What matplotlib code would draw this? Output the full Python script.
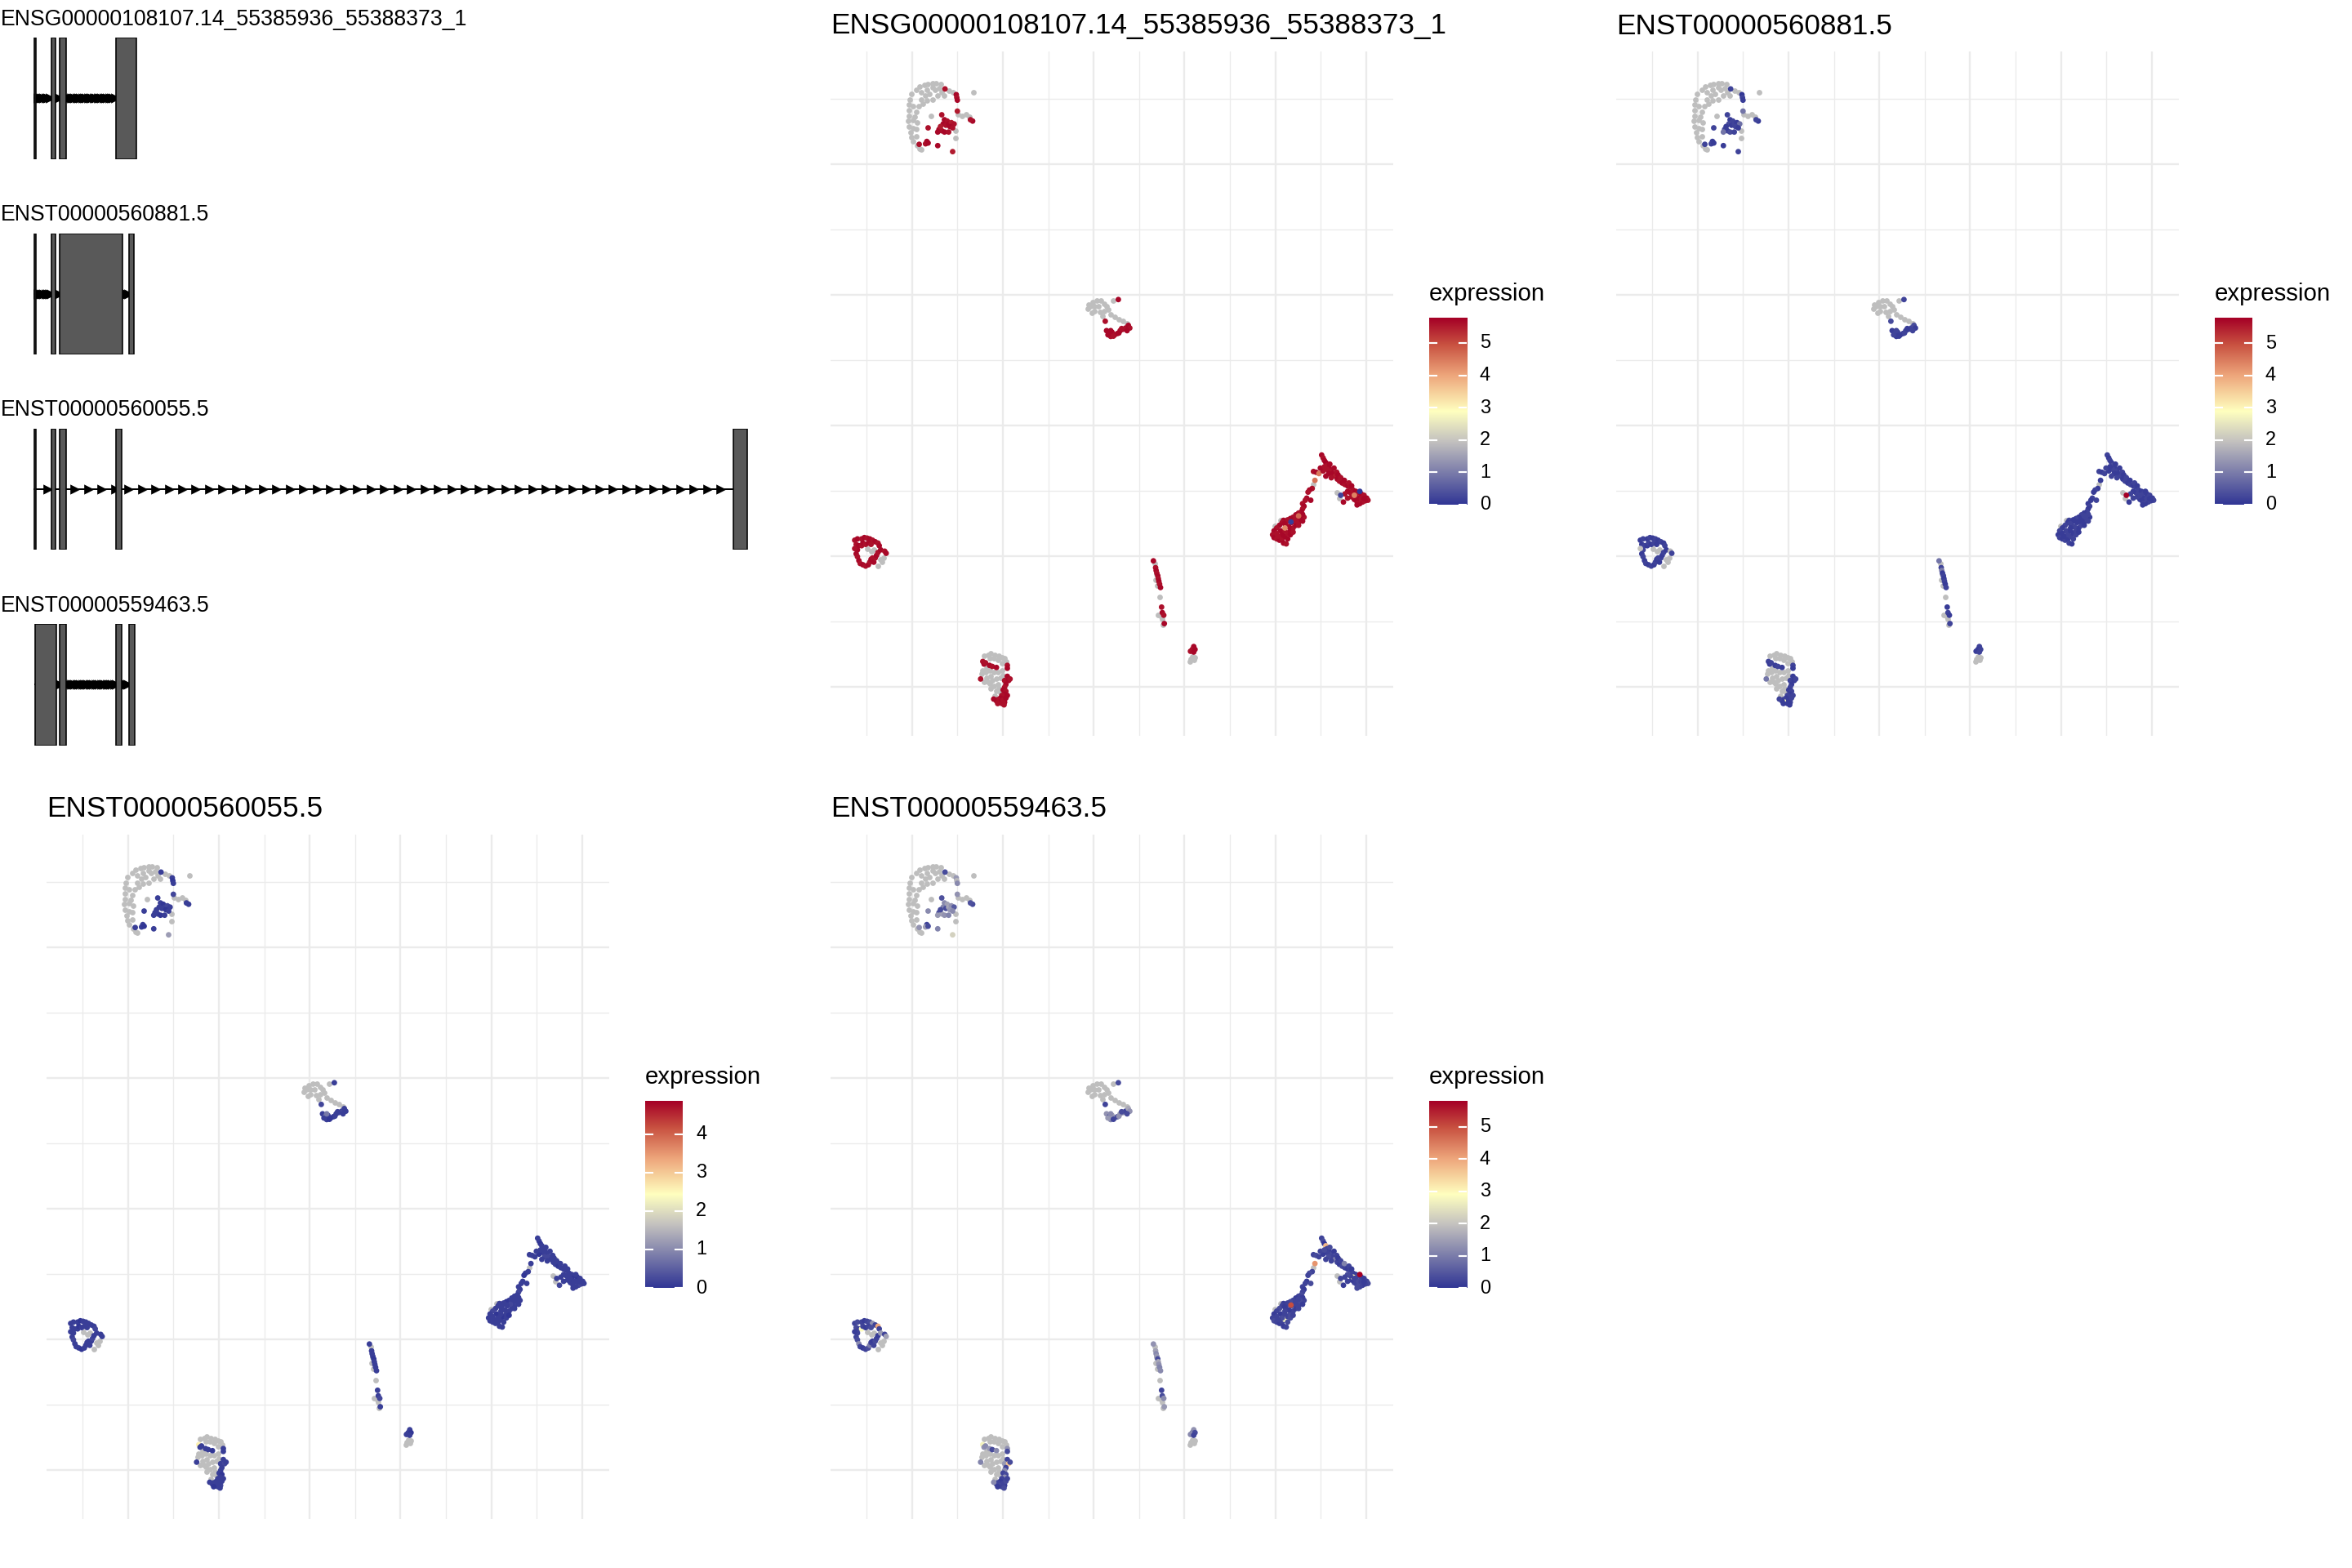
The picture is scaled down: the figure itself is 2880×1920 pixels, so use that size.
import numpy as np
import matplotlib
matplotlib.use("Agg")
import matplotlib.pyplot as plt
from matplotlib.colors import LinearSegmentedColormap
from matplotlib.patches import Rectangle

plt.rcParams['font.family'] = ['Liberation Sans', 'DejaVu Sans']

# ------------------------------------------------------------------ data
track_names = ["ENSG00000108107.14_55385936_55388373_1", "ENST00000560881.5",
               "ENST00000560055.5", "ENST00000559463.5"]
exons_gene = [(55385936, 55385983), (55386346, 55386451), (55386556, 55386706), (55387898, 55388373)]
exons_560881 = [(55385936, 55385983), (55386346, 55386451), (55386556, 55388038), (55388202, 55388319)]
exons_560055 = [(55385936, 55385983), (55386346, 55386451), (55386556, 55386706),
                (55387898, 55388026), (55402634, 55402962)]
exons_559463 = [(55385959, 55386462), (55386556, 55386706), (55387898, 55388026), (55388202, 55388342)]
track_exons = [exons_gene, exons_560881, exons_560055, exons_559463]

panel_titles = ["ENSG00000108107.14_55385936_55388373_1", "ENST00000560881.5",
                "ENST00000560055.5", "ENST00000559463.5"]

# cells without detected expression (drawn grey): UMAP_1, UMAP_2
gray_A = [(-9.56, 12.97), (-9.33, 13.03), (-9.11, 13.07), (-8.88, 13.09), (-8.66, 13.11), (-8.43, 13.07),
          (-7.98, 12.82), (-7.76, 12.76), (-9.78, 12.84), (-10.01, 12.69), (-10.11, 12.48), (-10.16, 12.27),
          (-10.16, 12.06), (-10.16, 11.85), (-10.20, 11.65), (-10.16, 11.44), (-10.08, 11.23), (-10.05, 11.02),
          (-9.93, 10.87), (-9.71, 10.71), (-9.56, 10.61), (-9.48, 12.74), (-9.25, 12.64), (-9.03, 12.69),
          (-8.73, 12.84), (-8.51, 12.90), (-9.18, 12.43), (-9.40, 12.32), (-9.63, 12.22), (-9.78, 12.01),
          (-9.86, 11.80), (-9.71, 11.59), (-9.93, 11.39), (-9.48, 12.48), (-8.88, 12.48), (-8.58, 12.64),
          (-8.36, 12.74), (-8.95, 11.85), (-7.46, 11.91), (-7.23, 11.85), (-7.01, 11.91), (-6.86, 11.80),
          (-6.60, 12.74), (-7.61, 11.28), (-7.61, 10.99), (-9.48, 10.55), (-9.78, 11.07), (-9.93, 12.22),
          (-9.96, 11.70), (-9.78, 11.33), (-9.18, 12.84), (-8.88, 12.95), (-8.21, 12.64)]
gray_B = [(-0.34, 4.46), (-0.19, 4.56), (-0.04, 4.72), (0.19, 4.79), (0.41, 4.77), (0.56, 4.67), (0.71, 4.56),
          (0.79, 4.44), (0.56, 4.38), (0.34, 4.35), (0.04, 4.38), (-0.11, 4.30), (0.94, 4.25), (1.16, 4.15),
          (1.39, 4.06), (1.61, 3.99), (1.84, 3.92), (1.09, 4.79), (0.26, 4.56), (0.49, 4.20), (0.04, 4.56),
          (-0.26, 4.62)]
gray_C = [(13.53, -2.78), (13.38, -2.57), (13.53, -1.94), (12.10, -2.26), (10.30, -3.61), (9.98, -3.85)]
gray_D = [(-12.10, -4.76), (-12.25, -4.81), (-11.57, -5.07), (-11.72, -5.12), (-11.87, -5.38),
          (-11.65, -5.23), (-12.47, -4.71)]
gray_E = [(-6.03, -8.82), (-5.80, -8.77), (-5.65, -8.72), (-5.43, -8.77), (-5.20, -8.82), (-5.05, -8.87),
          (-4.90, -8.92), (-4.83, -9.03), (-5.73, -8.92), (-5.50, -8.92), (-5.28, -8.98), (-5.05, -9.08),
          (-5.88, -9.29), (-6.10, -9.39), (-6.18, -9.50), (-5.95, -9.44), (-5.73, -9.39), (-5.50, -9.44),
          (-5.28, -9.44), (-5.05, -9.39), (-5.65, -9.60), (-5.88, -9.65), (-6.03, -9.81), (-5.80, -9.81),
          (-5.58, -9.76), (-5.35, -9.70), (-5.13, -9.65), (-4.98, -9.55), (-5.50, -9.97), (-5.28, -9.91),
          (-5.20, -10.07), (-5.35, -10.17), (-5.13, -10.23), (-5.65, -10.07), (-5.43, -10.33), (-5.73, -9.86)]
gray_F = [(3.36, -5.29), (3.48, -6.12), (3.41, -5.91), (3.44, -5.70), (3.63, -6.57), (3.71, -7.32),
          (3.78, -7.42), (3.83, -7.63), (3.56, -7.26)]
gray_G = [(5.43, -8.83), (5.36, -8.93), (5.28, -9.04), (5.58, -8.88), (5.51, -8.98)]

# expressing cells: UMAP_1, UMAP_2, gene, ENST560881, ENST560055, ENST559463
cells_A = [
    (-8.18, 12.88, 5.6, 0.2, 0.1, 0.3), (-7.56, 12.66, 5.7, 0.0, 0.1, 1.4), (-7.53, 12.55, 5.6, 0.2, 0.0, 1.8),
    (-7.50, 12.45, 5.7, 0.1, 0.1, 1.2), (-7.50, 12.03, 5.5, 0.9, 0.2, 1.3), (-8.36, 11.89, 5.6, 0.2, 0.1, 0.4),
    (-8.21, 11.70, 5.7, 0.1, 0.1, 1.2), (-8.06, 11.65, 5.6, 0.2, 0.0, 1.5), (-8.28, 11.54, 5.7, 0.3, 0.1, 1.1),
    (-8.13, 11.49, 5.6, 0.1, 0.1, 0.3), (-7.98, 11.54, 5.7, 0.2, 0.1, 1.6), (-7.83, 11.59, 5.5, 0.1, 0.2, 1.3),
    (-7.68, 11.54, 5.6, 0.8, 0.1, 0.5), (-7.91, 11.44, 5.7, 0.2, 0.0, 1.4), (-7.76, 11.39, 5.6, 0.1, 0.1, 1.2),
    (-8.51, 11.33, 5.7, 0.2, 0.1, 0.4), (-8.36, 11.28, 5.6, 0.1, 0.1, 1.5), (-8.21, 11.23, 5.7, 0.3, 0.0, 1.3),
    (-7.98, 11.23, 5.6, 0.2, 0.1, 1.1), (-8.43, 11.44, 5.5, 0.1, 0.1, 0.3), (-8.58, 11.23, 5.7, 0.9, 0.1, 1.4),
    (-9.11, 11.39, 5.6, 0.2, 0.1, 1.2), (-9.18, 10.87, 5.7, 0.1, 0.1, 0.2), (-9.25, 10.78, 5.6, 0.2, 0.1, 1.5),
    (-9.11, 10.81, 5.7, 0.1, 0.0, 0.3), (-9.60, 10.76, 5.6, 0.2, 0.1, 1.3), (-8.58, 10.71, 5.7, 0.1, 0.1, 1.1),
    (-7.76, 10.48, 5.5, 0.2, 1.2, 2.2), (-6.66, 11.65, 5.7, 0.1, 0.1, 0.3), (-6.78, 11.70, 5.6, 0.2, 0.1, 0.4)]
cells_B = [
    (1.36, 4.82, 5.7, 0.2, 0.1, 0.3), (0.64, 3.99, 5.6, 0.3, 0.2, 0.2), (0.71, 3.63, 5.7, 0.1, 0.1, 1.3),
    (0.86, 3.52, 5.6, 0.2, 1.0, 0.2), (1.01, 3.57, 5.7, 0.1, 0.1, 1.5), (1.16, 3.47, 5.6, 0.2, 0.1, 1.2),
    (1.31, 3.52, 5.7, 0.1, 0.0, 0.3), (1.46, 3.63, 5.6, 0.2, 0.1, 1.4), (1.61, 3.68, 5.7, 0.1, 0.1, 1.1),
    (1.76, 3.73, 5.6, 0.2, 0.2, 0.2), (1.91, 3.83, 5.7, 0.3, 0.1, 1.6), (1.99, 3.73, 5.6, 0.1, 0.1, 1.3),
    (1.84, 3.63, 5.7, 0.2, 0.1, 0.3), (0.94, 3.41, 5.6, 0.1, 0.1, 1.2), (0.79, 3.47, 5.7, 0.2, 0.1, 1.4),
    (1.09, 3.42, 5.6, 0.1, 0.0, 0.2), (1.39, 3.54, 5.7, 0.2, 0.1, 1.3), (1.54, 3.71, 5.6, 0.1, 0.1, 0.3),
    (0.94, 3.63, 5.7, 0.2, 0.8, 1.2)]
cells_C = [
    (10.53, -3.66, 5.7, 0.2, 4.87, 0.1),
    (12.55, -1.13, 5.7, 0.2, 0.1, 0.2), (12.63, -1.24, 5.6, 0.1, 0.1, 0.3), (12.70, -1.34, 5.7, 0.2, 0.0, 0.0),
    (12.78, -1.42, 5.78, 0.1, 0.1, 3.8), (12.85, -1.53, 5.6, 0.3, 0.1, 0.2), (12.96, -1.63, 5.7, 0.1, 0.1, 0.1),
    (13.08, -1.74, 5.6, 0.2, 0.1, 0.3), (13.15, -1.84, 5.7, 0.1, 0.2, 0.2), (13.30, -1.94, 5.5, 0.2, 0.1, 1.0),
    (13.41, -2.05, 5.7, 0.1, 0.1, 0.2), (13.53, -2.13, 5.6, 0.2, 0.1, 0.1), (13.68, -2.20, 5.7, 0.1, 0.0, 0.3),
    (13.83, -2.26, 5.6, 0.2, 0.1, 0.2), (13.98, -2.31, 5.7, 0.1, 0.1, 0.1), (14.13, -2.36, 5.6, 0.2, 0.1, 0.2),
    (13.00, -1.48, 5.7, 0.1, 0.1, 0.3), (12.85, -1.68, 5.6, 0.2, 0.1, 0.2), (13.23, -1.63, 5.7, 0.1, 0.1, 0.1),
    (13.38, -1.79, 5.6, 0.2, 0.1, 0.2), (12.93, -1.84, 5.7, 0.1, 0.2, 0.3), (13.08, -2.00, 5.6, 0.2, 0.1, 0.2),
    (13.45, -1.89, 5.7, 0.1, 0.1, 0.1), (13.60, -2.00, 5.6, 0.2, 0.1, 0.2), (13.80, -2.10, 5.7, 0.1, 0.1, 1.1),
    (14.05, -2.20, 5.6, 0.2, 0.1, 0.2), (14.20, -2.31, 5.7, 0.1, 0.1, 0.1),
    (12.10, -1.76, 5.6, 0.2, 0.1, 0.2), (12.25, -1.79, 5.7, 0.1, 0.1, 0.3), (12.40, -1.84, 4.5, 0.2, 0.1, 0.2),
    (12.63, -1.74, 5.6, 0.1, 0.0, 0.1), (12.48, -1.63, 5.7, 0.2, 0.1, 0.2), (12.70, -1.58, 5.6, 0.1, 0.1, 0.3),
    (12.78, -1.94, 5.7, 0.2, 0.1, 0.2), (12.18, -2.10, 4.6, 0.1, 0.1, 4.2),
    (14.28, -2.47, 5.6, 0.2, 0.1, 0.2), (14.43, -2.52, 5.7, 0.1, 0.1, 0.1), (14.58, -2.57, 5.6, 0.2, 0.1, 0.3),
    (14.73, -2.62, 5.7, 0.1, 0.0, 0.2), (14.88, -2.67, 5.6, 0.2, 0.1, 0.1), (15.03, -2.78, 5.7, 0.1, 0.1, 0.2),
    (15.10, -2.86, 5.6, 0.2, 0.1, 0.3), (14.95, -2.88, 5.7, 0.1, 0.1, 0.2), (14.80, -2.93, 5.6, 0.2, 0.2, 0.1),
    (14.65, -2.99, 5.7, 0.1, 0.1, 0.2), (14.50, -2.93, 5.6, 0.2, 0.1, 0.3), (14.35, -2.83, 5.7, 0.1, 0.1, 0.2),
    (14.20, -2.73, 5.6, 0.2, 0.1, 0.1), (14.28, -2.62, 5.7, 0.1, 0.1, 3.0), (14.43, -2.67, 5.6, 0.2, 0.0, 0.2),
    (14.58, -2.78, 5.7, 0.1, 0.1, 0.3), (14.73, -2.80, 5.6, 0.2, 0.1, 0.2), (14.88, -2.80, 5.7, 0.1, 0.1, 0.1),
    (14.13, -2.57, 5.6, 0.2, 0.1, 0.2), (13.98, -2.52, 5.7, 0.1, 0.1, 0.3), (13.83, -2.62, 5.6, 0.2, 0.1, 0.2),
    (13.75, -2.93, 5.7, 0.1, 0.2, 0.1), (13.98, -2.78, 5.6, 0.2, 0.1, 0.2), (14.50, -3.04, 5.7, 0.1, 0.1, 0.3),
    (14.65, -2.52, 0.0, 0.1, 0.1, 5.8), (13.60, -2.67, 0.2, 5.79, 0.1, 0.2), (14.35, -2.67, 4.4, 0.2, 0.1, 0.2),
    (12.03, -2.41, 5.6, 0.1, 0.1, 0.2), (11.88, -2.47, 5.7, 0.2, 0.1, 0.3), (11.80, -2.55, 5.6, 0.1, 0.0, 0.2),
    (11.73, -2.78, 5.7, 0.2, 0.1, 0.1), (11.65, -2.86, 5.6, 0.1, 0.1, 0.2), (11.95, -2.86, 5.7, 0.2, 0.1, 0.3),
    (11.50, -2.99, 5.6, 0.1, 0.1, 0.2), (11.58, -3.09, 5.7, 0.2, 0.1, 0.1), (11.50, -3.19, 5.6, 0.1, 0.2, 0.2),
    (11.43, -3.30, 5.7, 0.2, 0.1, 0.3),
    (11.28, -3.35, 5.6, 0.1, 0.1, 0.2), (11.13, -3.42, 5.7, 0.2, 0.1, 0.1), (10.98, -3.51, 5.6, 0.1, 0.1, 0.2),
    (10.83, -3.56, 5.7, 0.2, 0.0, 0.3), (10.68, -3.61, 5.6, 0.1, 0.1, 0.2), (10.45, -3.63, 5.7, 0.2, 0.1, 0.1),
    (10.38, -3.71, 5.6, 0.1, 0.1, 0.2), (10.23, -3.82, 5.7, 0.2, 0.1, 0.3), (10.08, -3.92, 5.6, 0.1, 0.2, 0.2),
    (9.93, -4.03, 5.7, 0.2, 0.1, 0.1), (9.85, -4.18, 5.6, 0.1, 0.1, 0.2), (9.93, -4.29, 5.7, 0.2, 0.1, 0.3),
    (10.08, -4.34, 5.6, 0.1, 0.1, 0.2), (10.23, -4.39, 5.7, 0.2, 0.1, 0.1), (10.38, -4.34, 5.6, 0.1, 0.1, 0.2),
    (10.53, -4.24, 5.7, 0.2, 0.1, 2.8), (10.68, -4.13, 5.6, 0.1, 0.0, 0.2), (10.83, -4.03, 5.7, 0.2, 0.1, 0.3),
    (10.98, -3.92, 5.6, 0.1, 0.1, 0.2), (11.13, -3.82, 5.7, 0.2, 0.1, 0.1), (11.28, -3.71, 5.6, 0.1, 0.1, 0.2),
    (11.43, -3.61, 5.7, 0.2, 0.2, 0.3), (11.58, -3.51, 5.6, 0.1, 0.1, 0.2), (11.50, -3.40, 5.7, 0.2, 0.1, 0.1),
    (11.20, -3.56, 5.6, 0.1, 0.1, 0.2), (10.90, -3.71, 5.7, 0.2, 0.1, 0.3), (10.60, -3.87, 5.6, 0.1, 0.1, 0.2),
    (10.30, -4.03, 5.7, 0.2, 0.0, 0.1), (10.08, -4.13, 5.6, 0.1, 0.1, 0.2), (10.38, -4.18, 5.7, 0.2, 0.1, 0.3),
    (10.53, -4.03, 5.6, 0.1, 0.1, 0.2), (10.75, -3.87, 5.7, 0.2, 0.1, 0.1), (11.05, -3.66, 5.6, 0.1, 0.2, 0.2),
    (11.35, -3.51, 5.7, 0.2, 0.1, 0.3), (10.15, -4.24, 5.6, 0.1, 0.1, 0.2), (10.45, -4.50, 5.7, 0.2, 0.1, 0.1),
    (10.60, -4.53, 5.6, 0.1, 0.1, 0.2), (10.83, -4.18, 5.7, 0.2, 0.1, 0.3), (10.98, -4.08, 5.6, 0.1, 0.0, 0.2),
    (11.50, -3.66, 5.7, 0.2, 0.1, 0.1), (11.28, -3.82, 5.6, 0.1, 0.1, 0.2), (10.68, -4.34, 5.7, 0.2, 0.1, 0.3),
    (10.60, -3.70, 5.6, 0.1, 0.1, 0.2), (10.50, -3.75, 5.7, 0.2, 0.1, 0.1),
    (10.86, -3.69, 0.1, 0.1, 0.1, 5.0), (11.28, -3.46, 4.7, 0.2, 0.1, 0.2), (10.53, -3.92, 4.3, 0.1, 0.1, 0.2)]
cells_D = [
    (-13.15, -4.39, 5.6, 0.1, 0.1, 0.2), (-13.00, -4.34, 5.7, 0.2, 0.1, 0.3), (-12.77, -4.34, 5.6, 0.1, 0.1, 0.2),
    (-12.62, -4.29, 5.7, 0.2, 0.0, 0.1), (-12.47, -4.31, 5.6, 0.1, 0.1, 0.2), (-12.32, -4.34, 5.7, 0.2, 0.1, 0.3),
    (-12.17, -4.39, 5.6, 0.1, 0.1, 1.3), (-12.02, -4.45, 5.7, 0.2, 0.1, 0.2), (-11.87, -4.50, 5.6, 0.1, 0.1, 4.0),
    (-11.80, -4.60, 5.7, 0.2, 0.2, 0.2), (-13.07, -4.55, 5.6, 0.1, 0.1, 0.3), (-12.92, -4.60, 5.7, 0.2, 0.1, 0.2),
    (-12.77, -4.60, 5.6, 0.1, 0.1, 2.9), (-12.70, -4.50, 5.7, 0.2, 0.0, 0.2), (-12.55, -4.55, 5.6, 0.1, 0.1, 0.1),
    (-12.40, -4.50, 5.7, 0.2, 0.1, 0.2), (-12.25, -4.55, 5.6, 0.1, 0.1, 0.3), (-13.00, -4.76, 5.7, 0.2, 0.1, 0.2),
    (-13.15, -4.71, 5.6, 2.0, 0.1, 0.1), (-13.07, -4.91, 5.7, 0.1, 0.1, 0.2), (-13.00, -5.02, 5.6, 0.2, 0.2, 0.3),
    (-12.92, -5.17, 5.7, 0.1, 0.1, 1.2), (-12.85, -5.28, 5.6, 0.2, 0.1, 0.2), (-12.70, -5.33, 5.7, 0.1, 0.1, 0.1),
    (-12.55, -5.38, 5.6, 0.2, 0.0, 0.2), (-12.40, -5.33, 5.7, 0.1, 0.1, 0.3), (-12.32, -5.23, 5.6, 0.2, 0.1, 1.0),
    (-12.25, -5.12, 5.7, 0.1, 0.1, 0.2), (-12.17, -5.07, 5.6, 0.2, 0.1, 0.1), (-12.10, -5.23, 5.7, 0.1, 0.1, 0.2),
    (-12.02, -5.07, 5.6, 0.2, 0.1, 0.3), (-11.95, -4.97, 5.7, 0.1, 0.2, 0.2), (-11.87, -4.86, 5.6, 0.2, 0.1, 0.1),
    (-11.72, -4.76, 5.7, 0.1, 0.1, 1.4), (-11.50, -4.81, 5.6, 1.8, 0.1, 0.2), (-11.42, -4.89, 5.7, 0.2, 0.1, 1.5)]
cells_E = [
    (-6.10, -9.03, 5.6, 0.2, 2.6, 2.7), (-6.03, -9.13, 5.7, 0.1, 0.1, 1.3), (-5.95, -9.08, 5.6, 0.2, 0.1, 1.2),
    (-5.73, -9.18, 5.7, 0.1, 0.1, 1.4), (-5.58, -9.22, 5.6, 0.2, 0.1, 0.3), (-5.35, -9.26, 5.7, 0.1, 0.0, 1.2),
    (-4.75, -9.18, 5.6, 0.2, 0.1, 1.3), (-4.75, -9.29, 5.7, 0.1, 0.1, 0.3), (-6.22, -9.70, 5.6, 0.9, 0.1, 1.1),
    (-4.75, -9.60, 5.7, 0.1, 0.1, 0.2), (-4.90, -9.76, 5.6, 0.2, 0.1, 1.4), (-4.68, -9.76, 5.7, 0.1, 0.2, 3.6),
    (-4.60, -9.70, 5.6, 0.2, 0.1, 0.3), (-4.83, -9.91, 5.7, 0.1, 0.1, 0.2), (-4.90, -10.02, 5.6, 0.2, 0.1, 1.2),
    (-4.98, -10.12, 5.7, 0.1, 0.1, 0.2), (-4.83, -10.17, 5.6, 0.2, 0.0, 0.3), (-4.90, -10.28, 5.7, 0.1, 0.1, 1.3),
    (-5.05, -10.33, 5.6, 0.2, 0.1, 0.2), (-5.13, -10.43, 5.7, 0.1, 0.1, 0.1), (-5.28, -10.49, 5.6, 0.2, 0.1, 0.2),
    (-5.20, -10.59, 5.7, 2.9, 0.1, 0.3), (-5.05, -10.64, 5.6, 0.1, 0.1, 0.2), (-4.90, -10.59, 5.7, 0.2, 0.2, 0.1),
    (-4.98, -10.51, 5.6, 0.1, 0.1, 0.2), (-4.83, -10.43, 5.7, 0.2, 0.1, 0.3), (-5.35, -10.54, 5.6, 0.1, 0.1, 0.2),
    (-5.50, -10.47, 5.7, 0.2, 0.1, 1.2), (-5.28, -10.64, 5.6, 0.1, 0.0, 0.1), (-4.75, -10.33, 5.7, 0.2, 0.1, 0.2),
    (-4.93, -10.69, 5.6, 0.1, 0.1, 0.3)]
cells_F = [
    (3.29, -5.18, 5.7, 0.9, 0.1, 1.3), (3.41, -5.44, 5.6, 0.2, 0.1, 1.5), (3.44, -5.55, 5.7, 1.0, 0.1, 1.2),
    (3.48, -5.65, 5.6, 0.1, 0.1, 1.4), (3.53, -5.75, 5.7, 0.2, 0.0, 0.3), (3.56, -5.86, 5.6, 0.1, 0.1, 1.6),
    (3.59, -5.96, 5.7, 0.2, 0.1, 1.3), (3.63, -6.07, 5.6, 0.1, 0.1, 1.1), (3.68, -6.20, 5.7, 0.2, 0.1, 1.2),
    (3.74, -6.95, 5.6, 0.1, 0.1, 0.2), (3.78, -7.16, 5.7, 0.2, 0.1, 0.3), (3.86, -7.26, 5.6, 0.1, 0.2, 1.2),
    (3.89, -7.58, 5.7, 0.2, 0.1, 1.4)]
cells_G = [
    (5.51, -8.46, 5.7, 0.2, 0.1, 1.3), (5.43, -8.57, 5.6, 0.1, 0.1, 1.1), (5.58, -8.57, 5.7, 0.2, 0.0, 0.3),
    (5.33, -8.64, 5.6, 0.1, 0.1, 1.2), (5.51, -8.67, 5.7, 0.2, 0.1, 0.2)]

# ------------------------------------------------------------------ setup
W, H, DPI = 2880, 1920, 192
fig = plt.figure(figsize=(W / DPI, H / DPI), dpi=DPI)
fig.patch.set_facecolor("white")


def add_ax(left, top, width, height):
    return fig.add_axes([left / W, 1 - (top + height) / H, width / W, height / H])


def fig_text(x, y, s, **kw):
    fig.text(x / W, 1 - y / H, s, **kw)


expr_cmap = LinearSegmentedColormap.from_list(
    "expr", [(0.0, "#313695"), (0.34, "#C4C2BF"), (0.50, "#FFFFBF"),
             (0.69, "#EEA77C"), (0.86, "#C85040"), (1.0, "#A50026")])

# ------------------------------------------------------------------ transcript tracks
all_pos = [p for ex in track_exons for e in ex for p in e]
g_min, g_max = min(all_pos), max(all_pos)
g_span = g_max - g_min
xlo, xhi = g_min - 0.05 * g_span, g_max + 0.05 * g_span
track_tops = [46.2, 285.5, 524.8, 764.1]
for name, exons, top in zip(track_names, track_exons, track_tops):
    ax = add_ax(-2, top, 961, 148.5)
    ax.set_xlim(xlo, xhi)
    ax.set_ylim(0, 1)
    ax.axis("off")
    s0, s1 = exons[0][0], exons[-1][1]
    ax.plot([s0, exons[-1][0]], [0.5, 0.5], color="black", lw=0.75, zorder=1)
    arrow_pos = np.linspace(s0, s1, 54)
    in_intron = [p for p in arrow_pos
                 if not any(a <= p <= b for a, b in exons) and s0 < p < exons[-1][0]]
    ax.plot(in_intron, [0.5] * len(in_intron), linestyle="none", marker=">",
            ms=2.8, color="black", mec="black", zorder=2)
    for a, b in exons:
        ax.add_patch(Rectangle((a, 0), b - a, 1, facecolor="#595959",
                               edgecolor="black", lw=0.6, zorder=3))
    fig_text(1, top - 15.5, name, fontsize=10, va="baseline", ha="left")

# ------------------------------------------------------------------ UMAP panels
gray_all = np.array(gray_A + gray_B + gray_C + gray_D + gray_E + gray_F + gray_G)
cells_all = np.array(cells_A + cells_B + cells_C + cells_D + cells_E + cells_F + cells_G)

panels = [  # (title, value column, panel left, panel top)
    (panel_titles[0], 2, 1017, 62.8),
    (panel_titles[1], 3, 1979, 62.8),
    (panel_titles[2], 4, 57, 1021.8),
    (panel_titles[3], 5, 1017, 1021.8),
]
PW, PH = 689, 837.7
PT = 6.5
for title, col, left, top in panels:
    ax = add_ax(left, top, PW, PH)
    ax.set_xlim(-14.48, 16.49)
    ax.set_ylim(-11.86, 14.32)
    ax.set_xticks([-10, -5, 0, 5, 10, 15])
    ax.set_xticks([-12.5, -7.5, -2.5, 2.5, 7.5, 12.5], minor=True)
    ax.set_yticks([-10, -5, 0, 5, 10])
    ax.set_yticks([-7.5, -2.5, 2.5, 7.5, 12.5], minor=True)
    ax.grid(which="major", color="#EBEBEB", lw=0.9)
    ax.grid(which="minor", color="#EBEBEB", lw=0.5)
    ax.tick_params(which="both", length=0, labelbottom=False, labelleft=False)
    for sp in ax.spines.values():
        sp.set_visible(False)
    ax.set_axisbelow(True)
    vals = cells_all[:, col]
    vmin, vmax = vals.min(), vals.max()
    ax.scatter(gray_all[:, 0], gray_all[:, 1], s=PT, c="#BEBEBE", linewidths=0, zorder=2)
    ax.scatter(cells_all[:, 0], cells_all[:, 1], s=PT, c=vals, cmap=expr_cmap,
               vmin=vmin, vmax=vmax, linewidths=0, zorder=3)
    fig_text(left, top - 21.3, title, fontsize=13.2, va="baseline", ha="left")

    # colour bar legend
    bl = left + 733
    bt = top + 326.2
    cax = add_ax(bl, bt, 46, 229)
    grad = np.linspace(0, 1, 256).reshape(-1, 1)
    cax.imshow(grad, aspect="auto", cmap=expr_cmap, origin="lower",
               extent=(0, 1, vmin, vmax), interpolation="bilinear")
    cax.set_xlim(0, 1)
    cax.set_ylim(vmin, vmax)
    cax.axis("off")
    for v in range(int(np.ceil(vmin)), int(np.floor(vmax)) + 1):
        cax.plot([0, 0.2], [v, v], color="white", lw=0.8)
        cax.plot([0.8, 1], [v, v], color="white", lw=0.8)
        cax.text(1 + 16 / 46, v, str(v), transform=cax.get_yaxis_transform(),
                 fontsize=8.8, va="center", ha="left", color="black")
    fig_text(bl, bt - 21, "expression", fontsize=11, va="baseline", ha="left")

fig.savefig("out.png", dpi=DPI, facecolor="white")
